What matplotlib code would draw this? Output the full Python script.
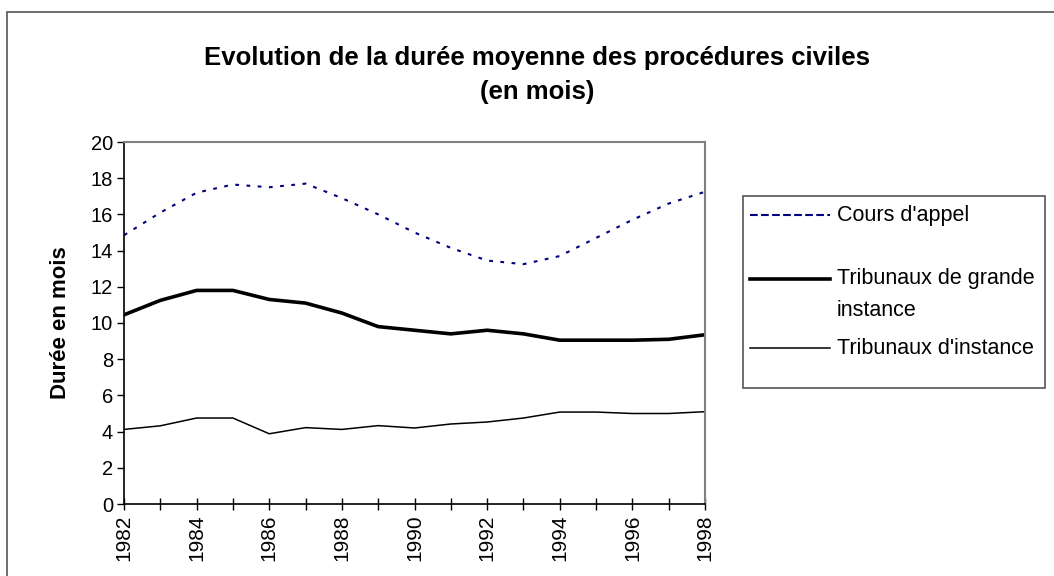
import matplotlib
matplotlib.use("Agg")
import matplotlib.pyplot as plt
from matplotlib.lines import Line2D
from matplotlib.patches import Rectangle

plt.rcParams['font.family'] = ['Liberation Sans', 'DejaVu Sans']

years = list(range(1982, 1999))
cours_appel = [14.85, 16.1, 17.2, 17.65, 17.5, 17.7, 16.9, 16.0, 15.0, 14.15, 13.45, 13.25, 13.7, 14.7, 15.7, 16.6, 17.25]
tgi = [10.45, 11.25, 11.8, 11.8, 11.3, 11.1, 10.55, 9.8, 9.6, 9.4, 9.6, 9.4, 9.05, 9.05, 9.05, 9.1, 9.35]
ti = [4.12, 4.32, 4.75, 4.75, 3.88, 4.22, 4.12, 4.33, 4.2, 4.42, 4.53, 4.75, 5.08, 5.08, 5.0, 5.0, 5.1]

labels = ["Cours d'appel", "Tribunaux de grande\ninstance", "Tribunaux d'instance"]
title = "Evolution de la durée moyenne des procédures civiles\n(en mois)"
ylabel = "Durée en mois"

W, H = 1054, 576
fig = plt.figure(figsize=(W / 100, H / 100), dpi=100)

def fx(x):
    return x / W

def fy(y):
    return 1 - y / H

# outer chart frame
fig.add_artist(Rectangle((fx(7), -0.01), 1.02, fy(12) + 0.01, transform=fig.transFigure,
                         fill=False, edgecolor='#555555', lw=1.2))

ax = fig.add_axes([fx(124), fy(504), fx(705) - fx(124), fy(142) - fy(504)])
l1, = ax.plot(years, cours_appel, color='#000080', lw=1.5, linestyle=(0, (1.8, 3.6)))
l2, = ax.plot(years, tgi, color='black', lw=2.6, solid_joinstyle='round')
l3, = ax.plot(years, ti, color='black', lw=1.1)

ax.set_xlim(1982, 1998)
ax.set_ylim(0, 20)
ax.set_yticks(range(0, 21, 2))
ax.set_xticks(years)
ax.set_xticklabels([str(y) if (y - 1982) % 2 == 0 else '' for y in years], rotation=90)
ax.tick_params(axis='y', direction='out', length=5, width=1, labelsize=14.5, pad=3)
ax.tick_params(axis='x', direction='inout', length=9, width=1, labelsize=15, pad=3)
for s in ['left', 'bottom']:
    ax.spines[s].set_color('black')
    ax.spines[s].set_linewidth(1.2)
for s in ['top', 'right']:
    ax.spines[s].set_color('#808080')
    ax.spines[s].set_linewidth(1.5)
ax.set_ylabel(ylabel, fontsize=16, fontweight='bold', labelpad=14)

fig.text(fx(537), fy(75), title, ha='center', va='center', fontsize=18.5,
         fontweight='bold', linespacing=1.48)

# legend box
fig.add_artist(Rectangle((fx(743), fy(388)), fx(1045) - fx(743), fy(196) - fy(388),
                         transform=fig.transFigure, fill=False, edgecolor='#555555', lw=1.2))
entries = [(l1, 215, labels[0], 215),
           (l2, 279, labels[1], 294.5),
           (l3, 348, labels[2], 348)]
for line, yy, t, ty in entries:
    fig.add_artist(Line2D([fx(750), fx(830)], [fy(yy), fy(yy)], transform=fig.transFigure,
                          color=line.get_color(), lw=line.get_linewidth(),
                          linestyle=line.get_linestyle()))
    fig.text(fx(837), fy(ty), t, ha='left', va='center', fontsize=15.5, linespacing=1.72)

fig.savefig('out.png', dpi=100)
